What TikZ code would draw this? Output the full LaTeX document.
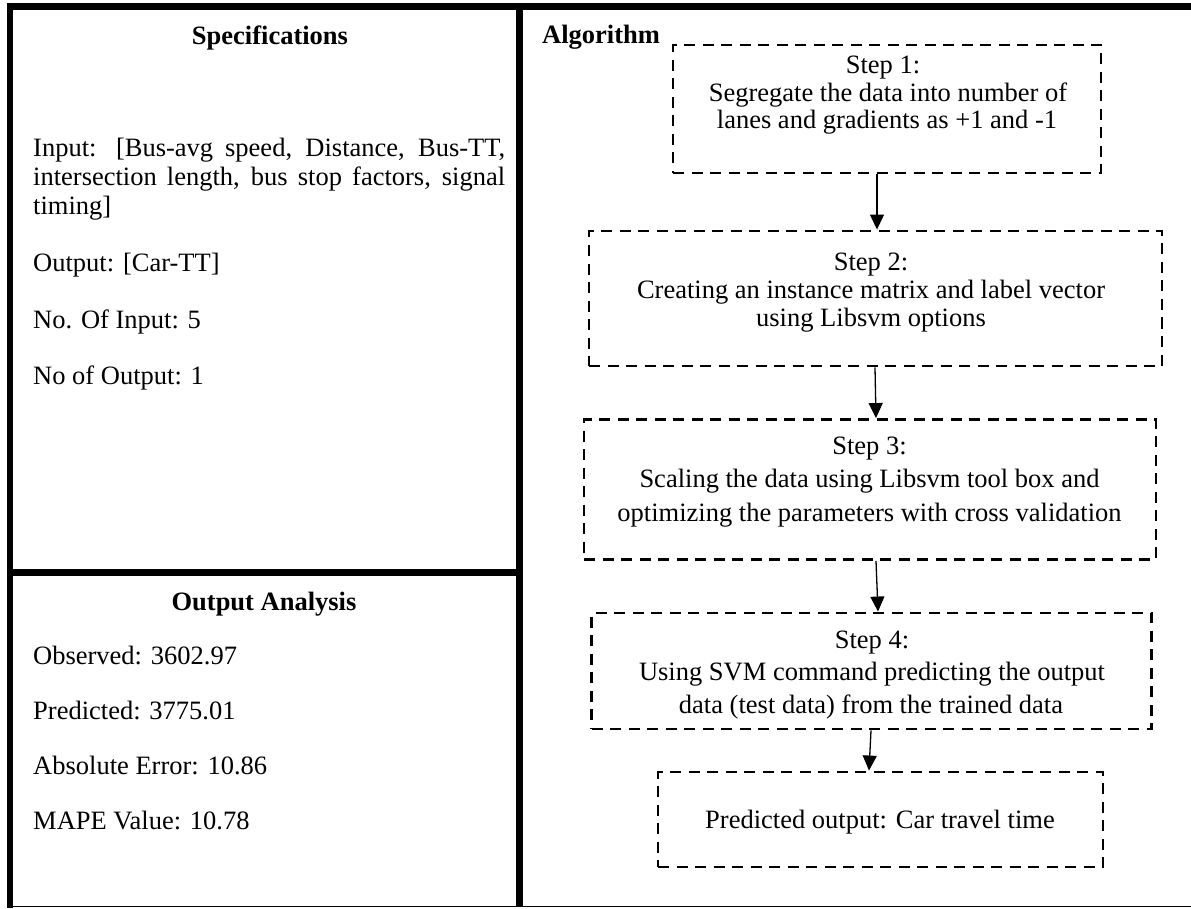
\documentclass[tikz,border=0pt]{standalone}
\usepackage{fontspec}
\setmainfont{Liberation Serif}
\usetikzlibrary{arrows.meta}
\begin{document}
\begin{tikzpicture}[x=1pt,y=-1pt,
  frame/.style={line width=6.5pt},
  thinframe/.style={line width=1.5pt},
  stepbox/.style={draw, dash pattern=on 11pt off 7.5pt, line width=2.9pt, inner sep=0pt},
  flow/.style={line width=1.3pt, -{Triangle[length=15pt,width=14pt]}},
  txt/.style={font=\fontsize{26.5}{31}\selectfont, inner sep=0pt},
  head/.style={font=\fontsize{26.5}{31}\selectfont\bfseries, inner sep=0pt}]
\useasboundingbox (0,0) rectangle (1191,909);
\fill[white] (0,0) rectangle (1191,909);

% frame
\draw[frame] (7,6.75) -- (1191,6.75);
\draw[frame] (10,3.5) -- (10,907.5);
\draw[frame] (519.7,3.5) -- (519.7,907);
\draw[frame] (10,572.5) -- (519.7,572.5);
\draw[thinframe] (7,906.5) -- (1191,906.5);

% left panel: specifications
\node[head, anchor=base] (spec) at (270,45) {Specifications};
\node[txt, anchor=base west] (in1) at (33,157) {\makebox[472pt][s]{Input: [Bus-avg speed, Distance, Bus-TT,}};
\node[txt, anchor=base west] (in2) at (33,186) {\makebox[472pt][s]{intersection length, bus stop factors, signal}};
\node[txt, anchor=base west] (in3) at (33,215) {timing]};
\node[txt, anchor=base west] (out) at (33,272) {Output: [Car-TT]};
\node[txt, anchor=base west] (nin) at (33,328) {No. Of Input: 5};
\node[txt, anchor=base west] (nout) at (33,384) {No of Output: 1};

% left panel: output analysis
\node[head, anchor=base] (oa) at (264,610) {Output Analysis};
\node[txt, anchor=base west] (obs) at (33,664) {Observed: 3602.97};
\node[txt, anchor=base west] (pred) at (33,719) {Predicted: 3775.01};
\node[txt, anchor=base west] (abs) at (33,774) {Absolute Error: 10.86};
\node[txt, anchor=base west] (mape) at (33,829) {MAPE Value: 10.78};

% right panel
\node[head, anchor=base west] (alg) at (542,44) {Algorithm};

\node[stepbox, minimum width=428pt, minimum height=128pt] (s1) at (887,109) {};
\node[txt, anchor=base] (s1a) at (883,74) {Step 1:};
\node[txt, anchor=base] (s1b) at (888,101.5) {Segregate the data into number of};
\node[txt, anchor=base] (s1c) at (887,129) {lanes and gradients as +1 and -1};

\node[stepbox, minimum width=573pt, minimum height=135pt] (s2) at (875.5,298.5) {};
\node[txt, anchor=base] (s2a) at (871,271) {Step 2:};
\node[txt, anchor=base] (s2b) at (871,298.5) {Creating an instance matrix and label vector};
\node[txt, anchor=base] (s2c) at (871,326.5) {using Libsvm options};

\node[stepbox, minimum width=572pt, minimum height=140pt] (s3) at (870,489.5) {};
\node[txt, anchor=base] (s3a) at (869.5,454) {Step 3:};
\node[txt, anchor=base] (s3b) at (869.5,487.5) {Scaling the data using Libsvm tool box and};
\node[txt, anchor=base] (s3c) at (869.5,521) {optimizing the parameters with cross validation};

\node[stepbox, minimum width=560pt, minimum height=116pt] (s4) at (871.5,671) {};
\node[txt, anchor=base] (s4a) at (872,648) {Step 4:};
\node[txt, anchor=base] (s4b) at (872,680) {Using SVM command predicting the output};
\node[txt, anchor=base] (s4c) at (871,713) {data (test data) from the trained data};

\node[stepbox, minimum width=445pt, minimum height=95pt] (s5) at (880.5,819.5) {};
\node[txt, anchor=base] (s5a) at (880,828) {Predicted output: Car travel time};

% connectors
\draw[flow] (s1.south -| 877,0) -- (s2.north -| 877,0);
\draw[flow] (s2.south -| 875,0) -- (s3.north -| 876,0);
\draw[flow] (s3.south -| 876,0) -- (s4.north -| 878,0);
\draw[flow] (s4.south -| 871,0) -- (s5.north -| 869,0);
\end{tikzpicture}
\end{document}
